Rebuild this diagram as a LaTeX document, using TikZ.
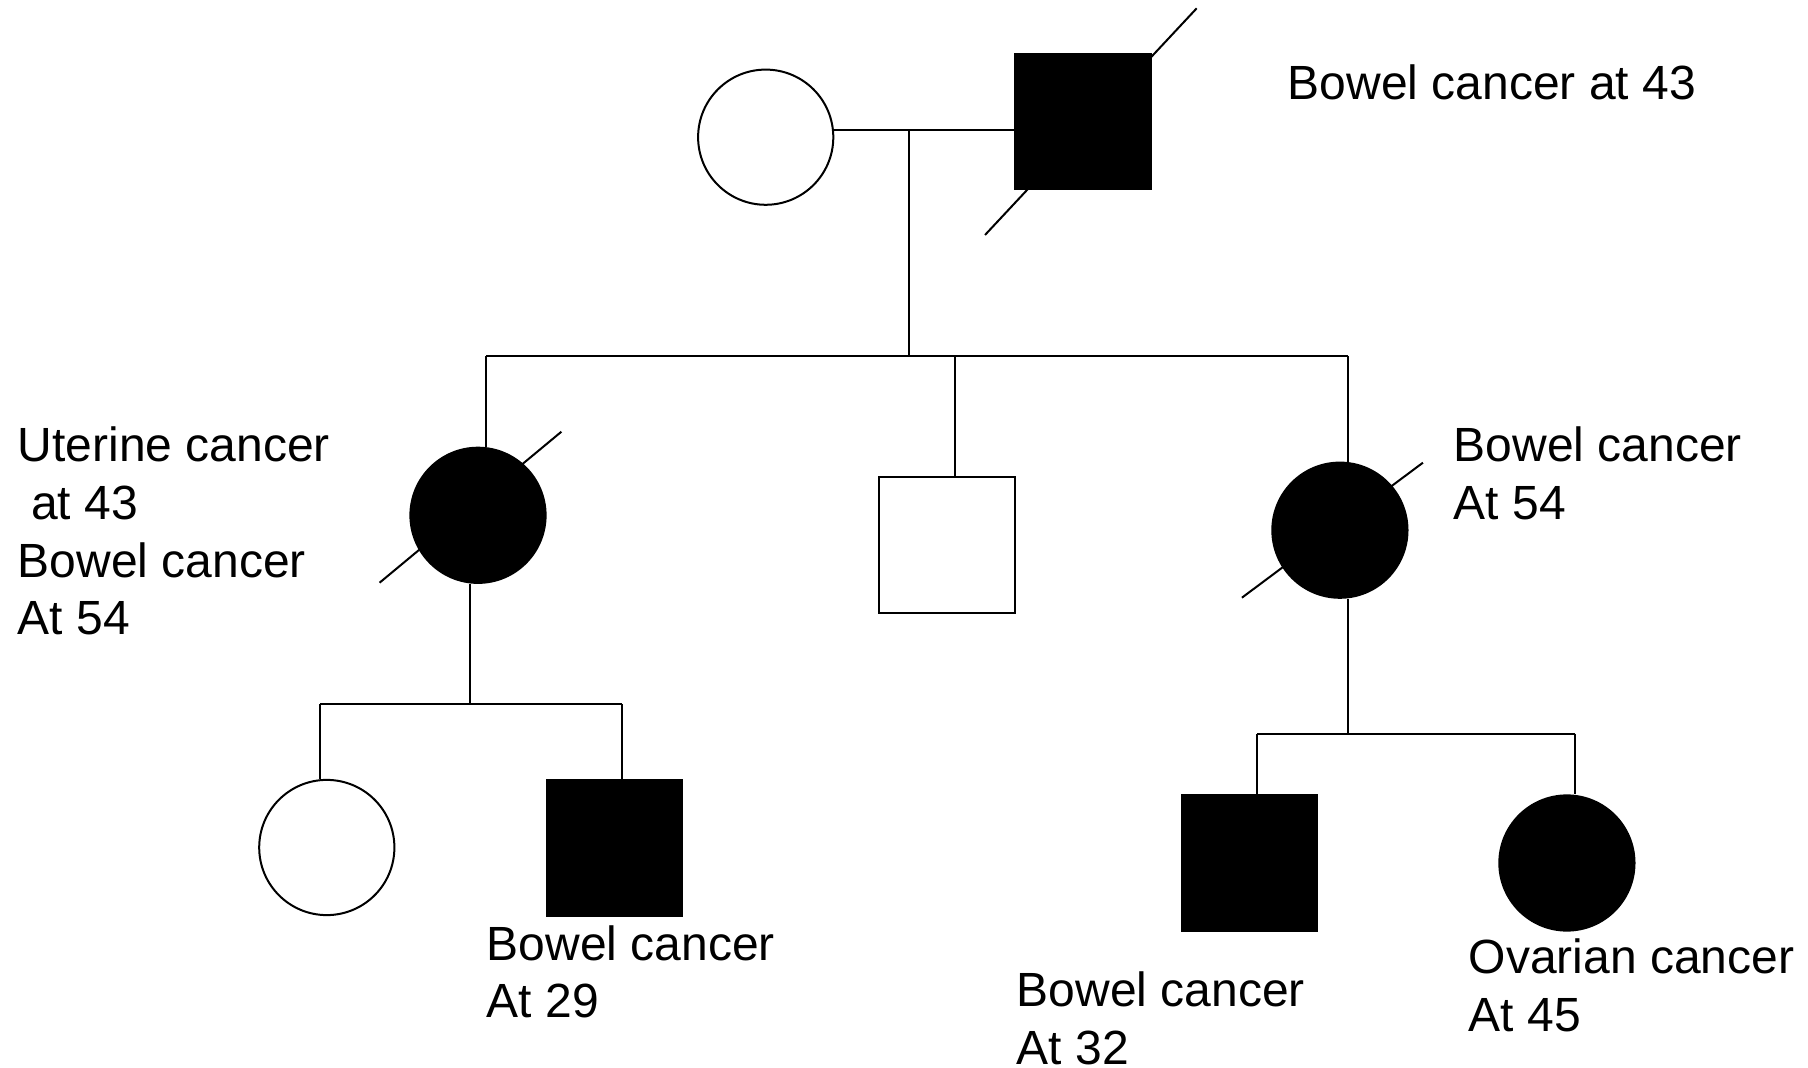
\documentclass[tikz,border=0pt]{standalone}
\usepackage{fontspec}
\setmainfont{Liberation Sans}
\newcommand\lbl[1]{\begin{tabular}[t]{@{}l@{}}#1\end{tabular}}
\tikzset{
  px/.style={x=0.5pt,y=-0.5pt},
  person/.style={draw=black,line width=1pt,inner sep=0pt,minimum size=67.6pt},
  female/.style={person,circle},
  male/.style={person,rectangle},
  affected/.style={fill=black},
  link/.style={draw=black,line width=1pt},
  slash/.style={draw=black,line width=1pt},
  lab/.style={anchor=base west,inner sep=0pt,font=\fontsize{24}{28.85}\selectfont}
}
\begin{document}
\begin{tikzpicture}[px]
\useasboundingbox[fill=white] (0,0) rectangle (1808,1068);
% deceased slashes (drawn under the symbols)
\draw[slash] (985,235) -- (1196.7,8.3);
\draw[slash] (379.6,582.7) -- (561.4,431.7);
\draw[slash] (1241.9,597.7) -- (1422.9,462.7);
% generation I
\node[female] (gm) at (765.7,137.2) {};
\node[male,affected] (gf) at (1083,121.7) {};
% generation II
\node[female,affected] (c1) at (478,515.3) {};
\node[male] (c2) at (947,545) {};
\node[female,affected] (c3) at (1339.9,530.2) {};
% generation III
\node[female] (g1) at (326.8,847.5) {};
\node[male,affected] (g2) at (614.2,847.9) {};
\node[male,affected] (g3) at (1249.2,863) {};
\node[female,affected] (g4) at (1566.9,863) {};
% helper coordinates for the line junctions
\coordinate (mar) at (909,129.7);
\coordinate (sibA) at (909,356);
\coordinate (sibL) at (486,356);
\coordinate (sibM) at (954.9,356);
\coordinate (sibR) at (1347.6,356);
\coordinate (c1d) at (470,584);
\coordinate (sibB) at (470,704);
\coordinate (sibBL) at (320,704);
\coordinate (sibBR) at (621.8,704);
\coordinate (c3d) at (1347.6,598.7);
\coordinate (sibC) at (1347.6,733.7);
\coordinate (sibCL) at (1257.1,733.7);
\coordinate (sibCR) at (1574.6,733.7);
% marriage and descent
\draw[link] (gm.east |- mar) -- (gf.west |- mar);
\draw[link] (mar) -- (sibA);
\draw[link] (sibL) -- (sibR);
\draw[link] (sibL) -- (sibL |- c1.north);
\draw[link] (sibM) -- (sibM |- c2.north);
\draw[link] (sibR) -- (sibR |- c3.north);
% c1 offspring
\draw[link] (c1d) -- (sibB);
\draw[link] (sibBL) -- (sibBR);
\draw[link] (sibBL) -- (sibBL |- g1.north);
\draw[link] (sibBR) -- (sibBR |- g2.north);
% c3 offspring
\draw[link] (c3d) -- (sibC);
\draw[link] (sibCL) -- (sibCR);
\draw[link] (sibCL) -- (sibCL |- g3.north);
\draw[link] (sibCR) -- (sibCR |- g4.north);
% labels
\node[lab] (tgf) at (1287.5,100) {\lbl{Bowel cancer at 43}};
\node[lab] (tc1) at (17.5,461.7) {\lbl{Uterine cancer\\\ at 43\\Bowel cancer\\At 54}};
\node[lab] (tc3) at (1453.5,461.7) {\lbl{Bowel cancer\\At 54}};
\node[lab] (tg2) at (486.5,960) {\lbl{Bowel cancer\\At 29}};
\node[lab] (tg3) at (1016.5,1006.7) {\lbl{Bowel cancer\\At 32}};
\node[lab] (tg4) at (1468.5,973.3) {\lbl{Ovarian cancer\\At 45}};
\end{tikzpicture}
\end{document}
